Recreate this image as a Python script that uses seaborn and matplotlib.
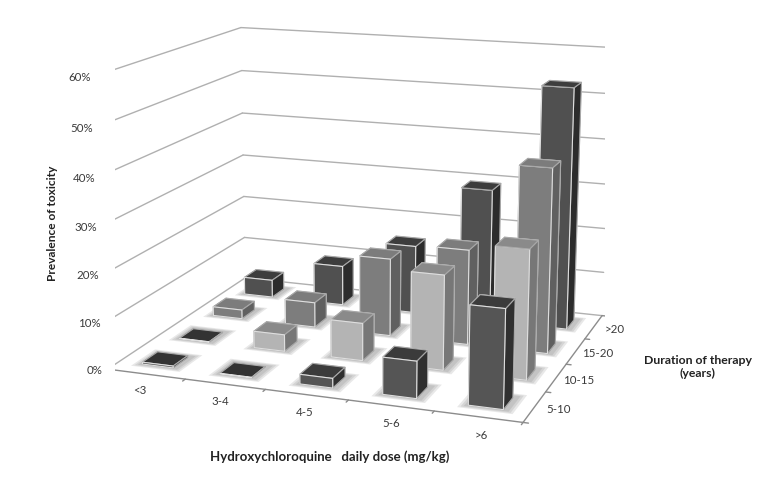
import matplotlib
matplotlib.use("Agg")
import matplotlib.pyplot as plt
import seaborn as sns
from mpl_toolkits.mplot3d import proj3d
from mpl_toolkits.mplot3d.art3d import Poly3DCollection

sns.set_style("white")
plt.rcParams['font.family'] = ['Lato', 'DejaVu Sans']

doses = ['<3', '3-4', '4-5', '5-6', '>6']
durations = ['5-10', '10-15', '15-20', '>20']
z_ticks = [0, 10, 20, 30, 40, 50, 60]
prevalence = {
    '5-10': [0.4, 0.1, 2, 7.6, 20],
    '10-15': [0.1, 3.6, 8, 20, 27],
    '15-20': [2, 5.5, 17, 20.6, 39.5],
    '>20': [4, 9, 15.3, 29.5, 53],
}
# top, front, side colours of each row
row_colors = {
    '5-10': ('#3b3b3b', '#555555', '#303030'),
    '10-15': ('#8a8a8a', '#b4b4b4', '#777777'),
    '15-20': ('#7c7c7c', '#7d7d7d', '#606060'),
    '>20': ('#3d3d3d', '#505050', '#2c2c2c'),
}

W, H = 768, 490
fig = plt.figure(figsize=(W / 100, H / 100), dpi=100)
ax = fig.add_subplot(projection='3d', computed_zorder=False)
ax.set_xlim(0, 5)
ax.set_ylim(0, 4)
ax.set_zlim(0, 60)
ax.set_axis_off()
ax.set_position([(139 - 23.8) / W, 34.6 / H, H / W, 1])

# view found by fitting the box corners of the reference
ax.view_init(elev=14.034, azim=-70.27, roll=-0.061)
ax.set_proj_type('persp', focal_length=0.648)
ax.set_box_aspect((1, 0.798, 0.695), zoom=1.199)

# walls and floor
grid = '#b0b0b0'
axis = '#8c8c8c'
for z in z_ticks:
    ax.plot([0, 0], [0, 4], [z, z], color=grid, lw=1, zorder=1)
    ax.plot([0, 5], [4, 4], [z, z], color=grid, lw=1, zorder=1)
    ax.plot([0, -.03], [0, 0], [z, z], color=axis, lw=1, zorder=1)
ax.plot([0, 0], [0, 0], [0, 60], color=axis, lw=1, zorder=1)
ax.plot([0, 5], [0, 0], [0, 0], color=axis, lw=1, zorder=1)
ax.plot([5, 5], [0, 4], [0, 0], color=axis, lw=1, zorder=1)
for i in range(len(doses) + 1):
    ax.plot([i, i], [0, -.07], [0, 0], color=axis, lw=1, zorder=1)
for j in range(len(durations) + 1):
    ax.plot([5, 5.06], [j, j], [0, 0], color=axis, lw=1, zorder=1)

# soft shadows under the bars
for j, dur in enumerate(durations):
    for i in range(len(doses)):
        for grow in (.1, .07, .04):
            x0, x1 = i + .3 - grow, i + .73 + grow
            y0, y1 = j + .3 - grow, j + .73 + grow
            ax.add_collection3d(Poly3DCollection([[(x0, y0, 0), (x1, y0, 0), (x1, y1, 0), (x0, y1, 0)]],
                                                 facecolor='#606060', edgecolor='none', alpha=.14, zorder=2))

order = 10
for j, dur in reversed(list(enumerate(durations))):
    top, front, side = row_colors[dur]
    for i, val in enumerate(prevalence[dur]):
        # nearly empty cells only show a dark plate
        lid = '#333333' if val < 0.5 else top
        faces = [lid, lid, front, front, side, side]
        edges = ['#a8a8a8', '#a8a8a8', '#dedede', '#dedede', '#a8a8a8', '#a8a8a8']
        ax.bar3d(i + .3, j + .3, 0, .4, .4, val, color=faces, shade=False,
                 edgecolor=edges, linewidth=.8, zorder=order)
        order += 1


def label(x, y, z, s, ha):
    # place tick text at the projected spot of a point in the box
    px, py, _ = proj3d.proj_transform(x, y, z, ax.get_proj())
    ax.text2D(px, py, s, transform=ax.transData, ha=ha, va='center', fontsize=8.3, color='#3a3a3a')


for i, d in enumerate(doses):
    label(i + .68, -.52, 0, d, 'center')
for j, d in enumerate(durations):
    label(5.27, j + .5, 0, d, 'center')
for z in z_ticks:
    label(-.07, 0, z - .5, f'{z}%', 'right')

fig.text(330 / W, 1 - 457 / H, 'Hydroxychloroquine   daily dose (mg/kg)', ha='center', va='center', fontsize=9.5, fontweight='bold', color='#222222')
fig.text(698 / W, 1 - 367 / H, 'Duration of therapy\n(years)', ha='center', va='center', fontsize=8.8, fontweight='bold', color='#222222')
fig.text(52 / W, 1 - 223 / H, 'Prevalence of toxicity', rotation=90, ha='center', va='center', fontsize=8.6, fontweight='bold', color='#222222')

fig.savefig('out.png', dpi=100)
